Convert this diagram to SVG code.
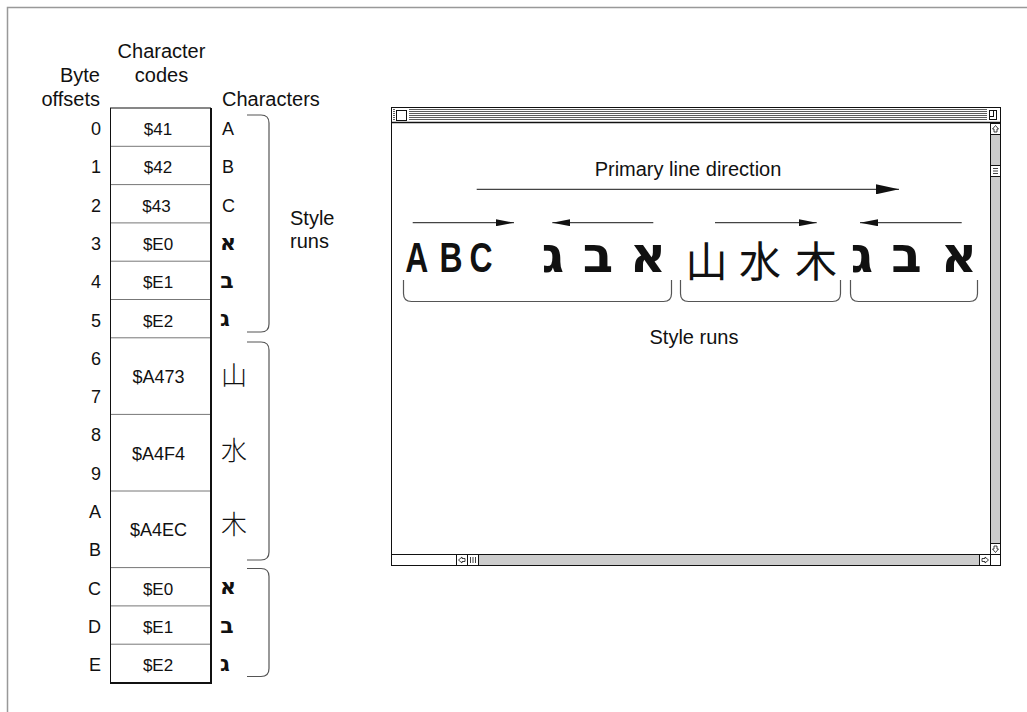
<svg xmlns="http://www.w3.org/2000/svg" width="1027" height="712" viewBox="0 0 1027 712">
<defs>
<style>
.lbl{font-family:"Liberation Sans",Arial,sans-serif;font-size:20px;fill:#111}
.off{font-family:"Liberation Sans",Arial,sans-serif;font-size:18px;fill:#111;text-anchor:end}
.code{font-family:"Liberation Sans",Arial,sans-serif;font-size:17px;fill:#111;text-anchor:middle}
.ch{font-family:"Liberation Sans",Arial,sans-serif;font-size:18px;fill:#111}
.heb{font-family:"DejaVu Sans","Liberation Sans",sans-serif;font-weight:bold;fill:#111;text-anchor:middle}
.cjk{font-family:"Noto Sans CJK JP","Noto Sans CJK SC",sans-serif;font-weight:300;fill:#111;text-anchor:middle}
.big{font-family:"Liberation Sans",Arial,sans-serif;font-weight:bold;font-size:42px;fill:#111;text-anchor:middle}
.brace{fill:none;stroke:#555;stroke-width:1.2}
.div{stroke:#777;stroke-width:1}
.arr{stroke:#444;stroke-width:1.2;fill:none}
</style>
<marker id="ahs" markerWidth="18" markerHeight="7" refX="18" refY="3.5" orient="auto" markerUnits="userSpaceOnUse" viewBox="0 0 18 7"><path d="M0,0 L18,3.5 L0,7 Z" fill="#111"/></marker>
<marker id="ahb" markerWidth="23" markerHeight="10" refX="23" refY="5" orient="auto" markerUnits="userSpaceOnUse" viewBox="0 0 23 10"><path d="M0,0 L23,5 L0,10 Z" fill="#111"/></marker>
</defs>
<rect width="1027" height="712" fill="#fff"/>
<polyline points="7.5,712 7.5,7.5 1027,7.5" fill="none" stroke="#999" stroke-width="1.5"/>

<g id="headers">
<text class="lbl" x="161.5" y="58" text-anchor="middle">Character</text>
<text class="lbl" x="161.5" y="82" text-anchor="middle">codes</text>
<text class="lbl" x="100" y="82" text-anchor="end">Byte</text>
<text class="lbl" x="100" y="106" text-anchor="end">offsets</text>
<text class="lbl" x="222" y="106">Characters</text>
</g>

<g id="table">
<rect x="110.5" y="108" width="100" height="574.5" fill="#fff" stroke="#111" stroke-width="1"/>
<line x1="211" y1="108" x2="211" y2="683.5" stroke="#111" stroke-width="2"/>
<line x1="110" y1="683" x2="212" y2="683" stroke="#111" stroke-width="2"/>
<g class="div">
<line x1="111" y1="146.3" x2="210" y2="146.3"/>
<line x1="111" y1="184.6" x2="210" y2="184.6"/>
<line x1="111" y1="222.9" x2="210" y2="222.9"/>
<line x1="111" y1="261.2" x2="210" y2="261.2"/>
<line x1="111" y1="299.5" x2="210" y2="299.5"/>
<line x1="111" y1="337.8" x2="210" y2="337.8"/>
<line x1="111" y1="414.4" x2="210" y2="414.4"/>
<line x1="111" y1="491" x2="210" y2="491"/>
<line x1="111" y1="567.6" x2="210" y2="567.6"/>
<line x1="111" y1="605.9" x2="210" y2="605.9"/>
<line x1="111" y1="644.2" x2="210" y2="644.2"/>
</g>
</g>

<g id="offsets">
<text class="off" x="101" y="135">0</text>
<text class="off" x="101" y="173.3">1</text>
<text class="off" x="101" y="211.6">2</text>
<text class="off" x="101" y="249.9">3</text>
<text class="off" x="101" y="288.2">4</text>
<text class="off" x="101" y="326.5">5</text>
<text class="off" x="101" y="364.8">6</text>
<text class="off" x="101" y="403.1">7</text>
<text class="off" x="101" y="441.4">8</text>
<text class="off" x="101" y="479.7">9</text>
<text class="off" x="101" y="518">A</text>
<text class="off" x="101" y="556.3">B</text>
<text class="off" x="101" y="594.6">C</text>
<text class="off" x="101" y="632.9">D</text>
<text class="off" x="101" y="671.2">E</text>
</g>

<g id="codes">
<text class="code" x="158" y="135">$41</text>
<text class="code" x="158" y="173.3">$42</text>
<text class="code" x="156.5" y="211.6">$43</text>
<text class="code" x="158" y="249.9">$E0</text>
<text class="code" x="158" y="288.2">$E1</text>
<text class="code" x="158" y="326.5">$E2</text>
<text class="code" x="158.5" y="383" style="font-size:18px">$A473</text>
<text class="code" x="158.5" y="459.6" style="font-size:18px">$A4F4</text>
<text class="code" x="158.5" y="536.2" style="font-size:18px">$A4EC</text>
<text class="code" x="158" y="594.6">$E0</text>
<text class="code" x="158" y="632.9">$E1</text>
<text class="code" x="158" y="671.2">$E2</text>
</g>

<g id="characters">
<text class="ch" x="222" y="135">A</text>
<text class="ch" x="222" y="173.3">B</text>
<text class="ch" x="222" y="211.6">C</text>
<text class="heb" x="228" y="249.5" font-size="22">א</text>
<text class="heb" x="227" y="288" font-size="22">ב</text>
<text class="heb" x="225" y="326.3" font-size="22">ג</text>
<text class="cjk" x="234" y="385" font-size="26">山</text>
<text class="cjk" x="234" y="460" font-size="26">水</text>
<text class="cjk" x="234" y="534" font-size="26">木</text>
<text class="heb" x="228" y="594.2" font-size="22">א</text>
<text class="heb" x="227" y="632.6" font-size="22">ב</text>
<text class="heb" x="225" y="671" font-size="22">ג</text>
</g>

<g id="table-braces">
<path class="brace" d="M247,115 H261 Q269,115 269,123 V324 Q269,332 261,332 H247"/>
<path class="brace" d="M247,342 H261 Q269,342 269,350 V552 Q269,560 261,560 H247"/>
<path class="brace" d="M247,568.5 H261 Q269,568.5 269,576.5 V668.5 Q269,676.5 261,676.5 H247"/>
<text class="lbl" x="290" y="225">Style</text>
<text class="lbl" x="290" y="248">runs</text>
</g>

<g id="window">
<rect x="391.5" y="107.5" width="609" height="458" fill="#fff" stroke="#111" stroke-width="1"/>
<g stroke="#333" stroke-width="0.8">
<line x1="393" y1="109.5" x2="999" y2="109.5"/>
<line x1="393" y1="111.5" x2="999" y2="111.5"/>
<line x1="393" y1="113.5" x2="999" y2="113.5"/>
<line x1="393" y1="115.5" x2="999" y2="115.5"/>
<line x1="393" y1="117.5" x2="999" y2="117.5"/>
<line x1="393" y1="119.5" x2="999" y2="119.5"/>
</g>
<line x1="392" y1="122.5" x2="1000" y2="122.5" stroke="#111" stroke-width="1.5"/>
<rect x="395" y="109" width="14" height="12" fill="#fff"/>
<rect x="396.5" y="110.5" width="10" height="10" fill="#fff" stroke="#111"/>
<rect x="987" y="109" width="12" height="12" fill="#fff"/>
<rect x="989.5" y="110.5" width="7" height="9" fill="#fff" stroke="#111"/>
<rect x="989.5" y="110.5" width="4" height="6" fill="none" stroke="#111"/>
<rect x="990.5" y="123.5" width="10" height="431" fill="#ccc" stroke="#111"/>
<rect x="990.5" y="123.5" width="10" height="11" fill="#fff" stroke="#111"/>
<path d="M995.5,125.5 L998.5,129 H997 V132 H994 V129 H992.5 Z" fill="#fff" stroke="#111" stroke-width="0.8"/>
<rect x="990.5" y="165.5" width="10" height="11" fill="#fff" stroke="#111"/>
<g stroke="#111" stroke-width="0.8"><line x1="993" y1="168.5" x2="998" y2="168.5"/><line x1="993" y1="171" x2="998" y2="171"/><line x1="993" y1="173.5" x2="998" y2="173.5"/></g>
<rect x="990.5" y="543.5" width="10" height="11" fill="#fff" stroke="#111"/>
<path d="M995.5,552.5 L998.5,549 H997 V546 H994 V549 H992.5 Z" fill="#fff" stroke="#111" stroke-width="0.8"/>
<rect x="391.5" y="554.5" width="599" height="11" fill="#ccc" stroke="#111"/>
<rect x="391.5" y="554.5" width="65" height="11" fill="#fff" stroke="#111"/>
<rect x="456.5" y="554.5" width="11" height="11" fill="#fff" stroke="#111"/>
<path d="M458.5,560 L462,557 V558.5 H465 V561.5 H462 V563 Z" fill="#fff" stroke="#111" stroke-width="0.8"/>
<rect x="467.5" y="554.5" width="11" height="11" fill="#fff" stroke="#111"/>
<g stroke="#111" stroke-width="0.8"><line x1="470.5" y1="557" x2="470.5" y2="563"/><line x1="473" y1="557" x2="473" y2="563"/><line x1="475.5" y1="557" x2="475.5" y2="563"/></g>
<rect x="979.5" y="554.5" width="11" height="11" fill="#fff" stroke="#111"/>
<path d="M988.5,560 L985,557 V558.5 H982 V561.5 H985 V563 Z" fill="#fff" stroke="#111" stroke-width="0.8"/>
<rect x="990.5" y="554.5" width="10" height="11" fill="#fff" stroke="#111"/>
</g>

<g id="window-text">
<text class="lbl" x="688" y="176" text-anchor="middle">Primary line direction</text>
<g transform="translate(416.7,272) scale(0.76,1)"><text class="big">A</text></g>
<g transform="translate(451,272) scale(0.76,1)"><text class="big">B</text></g>
<g transform="translate(481,272) scale(0.76,1)"><text class="big">C</text></g>
<text class="heb" x="553" y="272" font-size="50">ג</text>
<text class="heb" x="598" y="272" font-size="50">ב</text>
<text class="heb" x="648" y="272" font-size="50">א</text>
<text class="cjk" x="706.5" y="277" font-size="42" style="font-weight:400">山</text>
<text class="cjk" x="760" y="277" font-size="42" style="font-weight:400">水</text>
<text class="cjk" x="816" y="277" font-size="42" style="font-weight:400">木</text>
<text class="heb" x="862" y="272" font-size="50">ג</text>
<text class="heb" x="906.5" y="272" font-size="50">ב</text>
<text class="heb" x="959" y="272" font-size="50">א</text>
<text class="lbl" x="694" y="344" text-anchor="middle">Style runs</text>
</g>

<g id="connectors">
<line class="arr" x1="476.7" y1="189.3" x2="899" y2="189.3" marker-end="url(#ahb)" stroke="#111"/>
<line class="arr" x1="412.7" y1="222.7" x2="514" y2="222.7" marker-end="url(#ahs)"/>
<line class="arr" x1="653.3" y1="222.7" x2="552.3" y2="222.7" marker-end="url(#ahs)"/>
<line class="arr" x1="715" y1="222.7" x2="816.7" y2="222.7" marker-end="url(#ahs)"/>
<line class="arr" x1="961.7" y1="222.7" x2="860" y2="222.7" marker-end="url(#ahs)"/>
<path class="brace" d="M403.5,280 V293.5 Q403.5,301.5 411.5,301.5 H663.5 Q671.5,301.5 671.5,293.5 V280"/>
<path class="brace" d="M680.5,280 V293.5 Q680.5,301.5 688.5,301.5 H832.5 Q840.5,301.5 840.5,293.5 V280"/>
<path class="brace" d="M850.5,280 V293.5 Q850.5,301.5 858.5,301.5 H969.5 Q977.5,301.5 977.5,293.5 V280"/>
</g>
</svg>
